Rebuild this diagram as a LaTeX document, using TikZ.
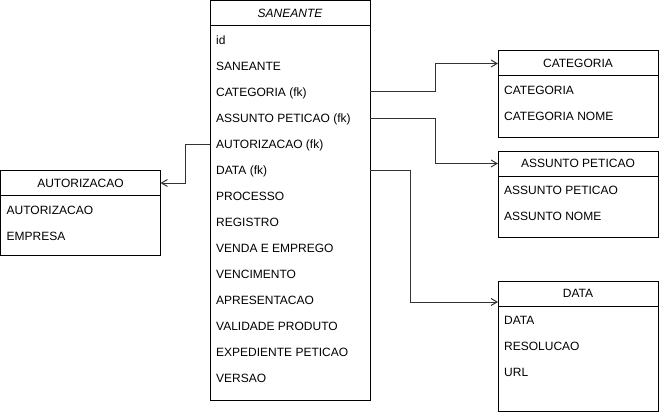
\documentclass[tikz,border=0pt]{standalone}
\usepackage{fontspec}
\setmainfont{Liberation Sans}
\usepackage{tikz}
\usetikzlibrary{positioning, arrows.meta}

\tikzset{
    tbl/.style={draw, rectangle, line width=1pt, minimum width=160pt,
        inner sep=0pt, outer sep=0pt},
    head/.style={tbl, minimum height=25pt, text height=8.6pt, text depth=0pt},
    row/.style={anchor=west, inner sep=0pt, text height=8.6pt, text depth=0pt},
    link/.style={draw=black!80, line width=1pt,
        -{Straight Barb[length=6pt, width=7pt]}}
}

\begin{document}
\begin{tikzpicture}[x=1pt, y=-1pt, font=\fontsize{12}{14}\selectfont]
        \useasboundingbox (0,0) rectangle (659,412);

        % Table SANEANTE
        \node[head] (san) at (290,13.5) {\itshape SANEANTE};
        \node[tbl, minimum height=374pt, below=0pt of san] (sanbody) {};
        \foreach \t [count=\i] in {id, SANEANTE, CATEGORIA (fk),
            ASSUNTO PETICAO (fk), AUTORIZACAO (fk), DATA (fk), PROCESSO,
            REGISTRO, VENDA E EMPREGO, VENCIMENTO, APRESENTACAO,
            VALIDADE PRODUTO, EXPEDIENTE PETICAO, VERSAO}
            \node[row] (san-\i) at (216,14+26*\i) {\t};

        % Table CATEGORIA
        \node[head] (cat) at (578,63.5) {CATEGORIA};
        \node[tbl, minimum height=61pt, below=0pt of cat] (catbody) {};
        \foreach \t [count=\i] in {CATEGORIA, CATEGORIA NOME}
            \node[row] (cat-\i) at (504,64+26*\i) {\t};

        % Table ASSUNTO PETICAO
        \node[head] (asp) at (578,163.5) {ASSUNTO PETICAO};
        \node[tbl, minimum height=61pt, below=0pt of asp] (aspbody) {};
        \foreach \t [count=\i] in {ASSUNTO PETICAO, ASSUNTO NOME}
            \node[row] (asp-\i) at (504,164+26*\i) {\t};

        % Table DATA
        \node[head] (dat) at (578,293.5) {DATA};
        \node[tbl, minimum height=105pt, below=0pt of dat] (datbody) {};
        \foreach \t [count=\i] in {DATA, RESOLUCAO, URL}
            \node[row] (dat-\i) at (504,294+26*\i) {\t};

        % Table AUTORIZACAO
        \node[head] (aut) at (80.5,183) {AUTORIZACAO};
        \node[tbl, minimum height=60pt, below=0pt of aut] (autbody) {};
        \foreach \t [count=\i] in {AUTORIZACAO, EMPRESA}
            \node[row] (aut-\i) at (6.5,184+26*\i) {\t};

        % Foreign keys
        \draw[link] (san-3 -| sanbody.east) -- ++(65,0) |- (cat.west);
        \draw[link] (san-4 -| sanbody.east) -- ++(65,0) |- (asp.west);
        \draw[link] (san-6 -| sanbody.east) -- ++(40,0)
            |- ([yshift=4pt]dat.south west);
        \draw[link] (san-5 -| sanbody.west) -- ++(-25,0) |- (aut.east);
\end{tikzpicture}
\end{document}
